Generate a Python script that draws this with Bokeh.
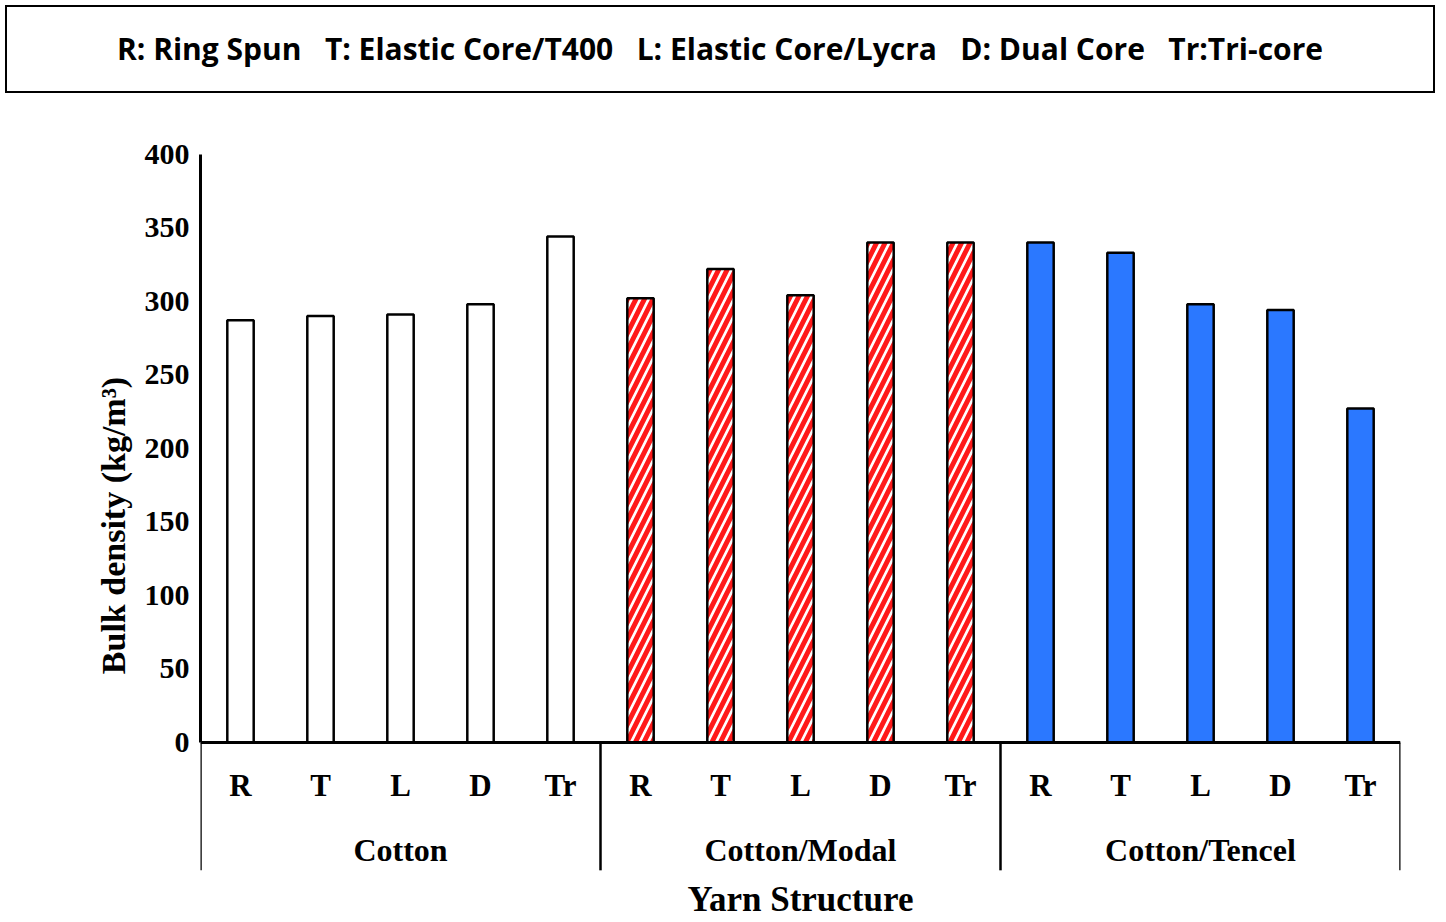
from bokeh.plotting import figure
from bokeh.models import Range1d, FixedTicker, Div, LinearAxis
from bokeh.layouts import column
from bokeh.embed import file_html
from bokeh.resources import INLINE
from bokeh.core.properties import value

groups = ["Cotton", "Cotton/Modal", "Cotton/Tencel"]
structures = ["R", "T", "L", "D", "Tr"]
cotton = [287, 290, 291, 298, 344]
modal = [302, 322, 304, 340, 340]
tencel = [340, 333, 298, 294, 227]
yticks = [0, 50, 100, 150, 200, 250, 300, 350, 400]

div = Div(text="R: Ring Spun&nbsp;&nbsp;&nbsp;T: Elastic Core/T400&nbsp;&nbsp;&nbsp;L: Elastic Core/Lycra&nbsp;&nbsp;&nbsp;D: Dual Core&nbsp;&nbsp;&nbsp;Tr:Tri-core",
          width=1430, height=88,
          styles={"border": "2.5px solid black", "font-family": "Open Sans", "font-weight": "bold",
                  "font-size": "30px", "display": "flex", "align-items": "center",
                  "justify-content": "center", "box-sizing": "border-box", "color": "black"})

p = figure(width=1430, height=813, x_range=Range1d(0, 15), y_range=Range1d(-115, 410),
           output_backend="svg", toolbar_location=None, min_border_left=200,
           min_border_right=30, min_border_top=41, min_border_bottom=0)
p.outline_line_color = None
p.grid.visible = False
p.xaxis.visible = False
p.yaxis.visible = False
ax = LinearAxis(ticker=FixedTicker(ticks=yticks), bounds=(0, 400))
ax.axis_line_width = 3
ax.major_tick_line_width = 0
ax.minor_tick_line_color = None
ax.major_label_text_font = "Liberation Serif"
ax.major_label_text_font_style = "bold"
ax.major_label_text_font_size = "30px"
ax.major_label_text_color = "black"
ax.axis_label = "Bulk density (kg/m³)"
ax.axis_label_text_font = "Liberation Serif"
ax.axis_label_text_font_style = "bold"
ax.axis_label_text_font_size = "34px"
ax.axis_label_text_color = "black"
ax.axis_label_standoff = 10
p.add_layout(ax, "left")

w = 0.33
xs = [i + 0.5 for i in range(5)]
p.vbar(x=xs, top=cotton, width=w, fill_color="white", line_color="black", line_width=2.5)
p.vbar(x=[x + 5 for x in xs], top=modal, width=w, fill_color="white", line_color="black", line_width=2.5,
       hatch_pattern="right_diagonal_line", hatch_color="#ff1a1a", hatch_weight=5, hatch_scale=17)
p.vbar(x=[x + 10 for x in xs], top=tencel, width=w, fill_color="#2b78ff", line_color="black", line_width=2.5)

p.segment(x0=[0], y0=[0], x1=[15], y1=[0], line_color="black", line_width=3)
p.segment(x0=[0, 5, 10, 15], y0=[0] * 4, x1=[0, 5, 10, 15], y1=[-87] * 4, line_color="black", line_width=2.5)

lab_x = [x + 5 * g for g in range(3) for x in xs]
lab_t = structures * 3
p.text(x=lab_x, y=[-29] * 15, text=lab_t, text_align="center", text_baseline="middle",
       text_font=value("Liberation Serif"), text_font_style="bold", text_font_size="31px")
p.text(x=[2.5, 7.5, 12.5], y=[-73] * 3, text=groups, text_align="center", text_baseline="middle",
       text_font=value("Liberation Serif"), text_font_style="bold", text_font_size="32px")
p.text(x=[7.5], y=[-107], text=["Yarn Structure"], text_align="center", text_baseline="middle",
       text_font=value("Liberation Serif"), text_font_style="bold", text_font_size="35px")

open("out.html", "w").write(file_html(column(div, p, spacing=0), INLINE))
